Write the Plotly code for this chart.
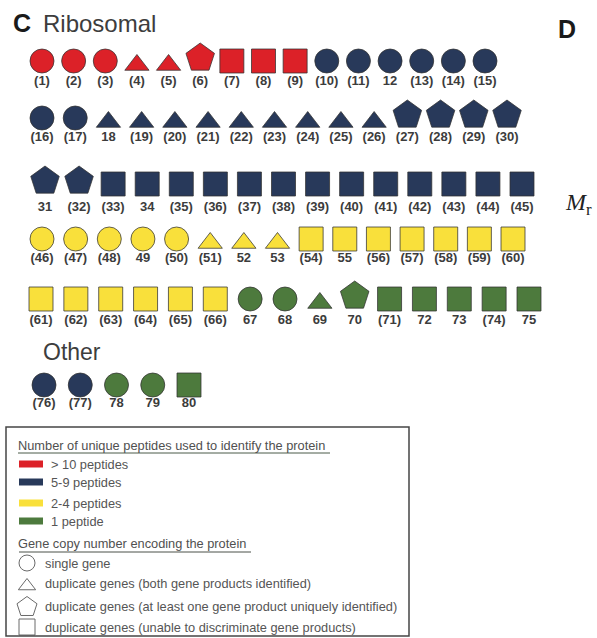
import plotly.graph_objects as go

W, H = 597, 638

# ---------------------------------------------------------------------------
# Data: one entry per identified protein (80 in total)
# ---------------------------------------------------------------------------
LABELS = [
    "(1)", "(2)", "(3)", "(4)", "(5)", "(6)", "(7)", "(8)", "(9)", "(10)", "(11)", "12", "(13)", "(14)", "(15)",
    "(16)", "(17)", "18", "(19)", "(20)", "(21)", "(22)", "(23)", "(24)", "(25)", "(26)", "(27)", "(28)", "(29)", "(30)",
    "31", "(32)", "(33)", "34", "(35)", "(36)", "(37)", "(38)", "(39)", "(40)", "(41)", "(42)", "(43)", "(44)", "(45)",
    "(46)", "(47)", "(48)", "49", "(50)", "(51)", "52", "53", "(54)", "55", "(56)", "(57)", "(58)", "(59)", "(60)",
    "(61)", "(62)", "(63)", "(64)", "(65)", "(66)", "67", "68", "69", "70", "(71)", "72", "73", "(74)", "75",
    "(76)", "(77)", "78", "79", "80",
]

GROUP = ["Ribosomal"] * 75 + ["Other"] * 5

# number of unique peptides used to identify each protein
PEPTIDES = (
    [">10"] * 9 + ["5-9"] * 6
    + ["5-9"] * 15
    + ["5-9"] * 15
    + ["2-4"] * 15
    + ["2-4"] * 6 + ["1"] * 9
    + ["5-9"] * 2 + ["1"] * 3
)

# gene copy number encoding each protein
GENE_COPY = (
    ["single"] * 3 + ["both"] * 2 + ["unique"] + ["ambiguous"] * 3 + ["single"] * 6
    + ["single"] * 2 + ["both"] * 9 + ["unique"] * 4
    + ["unique"] * 2 + ["ambiguous"] * 13
    + ["single"] * 5 + ["both"] * 3 + ["ambiguous"] * 7
    + ["ambiguous"] * 6 + ["single"] * 2 + ["both"] + ["unique"] + ["ambiguous"] * 5
    + ["single"] * 4 + ["ambiguous"]
)

PEPTIDE_KEYS = [">10", "5-9", "2-4", "1"]
PEPTIDE_TEXT = ["> 10 peptides", "5-9 peptides", "2-4 peptides", "1 peptide"]
GENE_KEYS = ["single", "both", "unique", "ambiguous"]
GENE_TEXT = [
    "single gene",
    "duplicate genes (both gene products identified)",
    "duplicate genes (at least one gene product uniquely identified)",
    "duplicate genes (unable to discriminate gene products)",
]

# ---------------------------------------------------------------------------
# Styling / layout
# ---------------------------------------------------------------------------
COLORS = {">10": "#dc2128", "5-9": "#28395a", "2-4": "#f9e03b", "1": "#4d7a3d"}
SYMBOL = {"single": "circle", "both": "triangle-up", "unique": "pentagon", "ambiguous": "square"}
SIZE = {"single": 24, "both": 21, "unique": 30, "ambiguous": 24}
Y_SHIFT = {"single": 0, "both": 4, "unique": -3, "ambiguous": 0}

# each row: (x of first mark, x of last mark, y of marks, y of labels)
ROWS = [
    (42, 485, 61, 82),
    (42, 507, 118, 138),
    (45, 522, 184, 208),
    (42, 513, 239, 259),
    (41, 529, 299, 321),
    (44, 189, 385, 404),
]
PER_ROW = 15

FONT = "Liberation Sans, Arial, Helvetica, sans-serif"
KEY_SIZE = 12.8

# assign each protein to a row / slot
row_members = [[] for _ in ROWS]
rib = [i for i, g in enumerate(GROUP) if g == "Ribosomal"]
oth = [i for i, g in enumerate(GROUP) if g == "Other"]
for k, i in enumerate(rib):
    row_members[k // PER_ROW].append(i)
row_members[len(ROWS) - 1].extend(oth)

px, py, ly = [0.0] * len(LABELS), [0.0] * len(LABELS), [0.0] * len(LABELS)
for r, members in enumerate(row_members):
    x0, x1, ys, yl = ROWS[r]
    n = len(members)
    step = (x1 - x0) / (n - 1)
    for k, i in enumerate(members):
        px[i] = x0 + k * step
        py[i] = ys + Y_SHIFT[GENE_COPY[i]]
        ly[i] = yl

fig = go.Figure()

for key in PEPTIDE_KEYS:
    idx = [i for i, p in enumerate(PEPTIDES) if p == key]
    fig.add_trace(go.Scatter(
        x=[px[i] for i in idx],
        y=[py[i] for i in idx],
        mode="markers",
        marker=dict(
            color=COLORS[key],
            opacity=1,
            symbol=[SYMBOL[GENE_COPY[i]] for i in idx],
            size=[SIZE[GENE_COPY[i]] for i in idx],
            line=dict(color="rgba(50,50,50,0.75)", width=1),
        ),
        hoverinfo="skip",
        showlegend=False,
    ))

fig.add_trace(go.Scatter(
    x=px, y=ly, mode="text", text=LABELS,
    textfont=dict(family=FONT, size=13, color="#3c3c3c", weight="bold"),
    hoverinfo="skip", showlegend=False,
))

# ---------------------------------------------------------------------------
# Key box
# ---------------------------------------------------------------------------
shapes = [
    dict(type="rect", xref="x", yref="y", x0=6, x1=409, y0=427, y1=636,
         line=dict(color="#454545", width=1.5), fillcolor="rgba(0,0,0,0)"),
    dict(type="line", xref="x", yref="y", x0=18, x1=330, y0=453, y1=453,
         line=dict(color="#4a5a48", width=1)),
    dict(type="line", xref="x", yref="y", x0=19, x1=251, y0=552, y1=552,
         line=dict(color="#4a5048", width=1)),
]
swatch_y = [464, 482, 503, 521]
for key, yy in zip(PEPTIDE_KEYS, swatch_y):
    shapes.append(dict(type="rect", xref="x", yref="y", x0=19, x1=43, y0=yy - 3.5, y1=yy + 3.5,
                       line=dict(width=0), fillcolor=COLORS[key]))

annotations = []


def note(x, y, text, size, color="#444", xanchor="left", family=FONT, bold=False):
    annotations.append(dict(
        x=x, y=y, xref="x", yref="y", text=text, showarrow=False,
        xanchor=xanchor, yanchor="middle",
        font=dict(family=family, size=size, color=color, weight="bold" if bold else "normal"),
    ))


note(16, 445, "Number of unique peptides used to identify the protein", KEY_SIZE, "#505050")
for txt, yy in zip(PEPTIDE_TEXT, swatch_y):
    note(49, yy, txt, KEY_SIZE, "#555")

note(16, 543, "Gene copy number encoding the protein", KEY_SIZE, "#505050")
icon_y = [563, 583, 606, 627]
icon_shift = {"single": 0, "both": 3, "unique": 1, "ambiguous": 0}
icon_size = {"single": 16, "both": 15, "unique": 21, "ambiguous": 16}
for txt, yy in zip(GENE_TEXT, icon_y):
    note(43, yy, txt, KEY_SIZE, "#555")

fig.add_trace(go.Scatter(
    x=[27] * len(GENE_KEYS),
    y=[yy + icon_shift[k] for k, yy in zip(GENE_KEYS, icon_y)],
    mode="markers",
    marker=dict(
        symbol=[SYMBOL[k] + "-open" for k in GENE_KEYS],
        size=[icon_size[k] for k in GENE_KEYS],
        color="#6a6a6a",
        opacity=1,
        line=dict(width=1),
    ),
    hoverinfo="skip", showlegend=False,
))

# ---------------------------------------------------------------------------
# Panel titles
# ---------------------------------------------------------------------------
note(11, 23, "C", 25, "#1a1a1a", bold=True)
note(41, 23, "Ribosomal", 24, "#3d3d3d")
note(41, 352, "Other", 23, "#3d3d3d")
note(567, 29, "D", 25, "#1a1a1a", xanchor="center", bold=True)
note(563, 204, "<i>M</i><sub>r</sub>", 24, "#222", family="Liberation Serif, Times New Roman, serif")

fig.update_layout(
    width=W, height=H,
    margin=dict(l=0, r=0, t=0, b=0),
    paper_bgcolor="white", plot_bgcolor="white",
    xaxis=dict(range=[0, W], visible=False, fixedrange=True),
    yaxis=dict(range=[H, 0], visible=False, fixedrange=True),
    shapes=shapes,
    annotations=annotations,
)

fig.write_html("out.html", config={"displayModeBar": False})
